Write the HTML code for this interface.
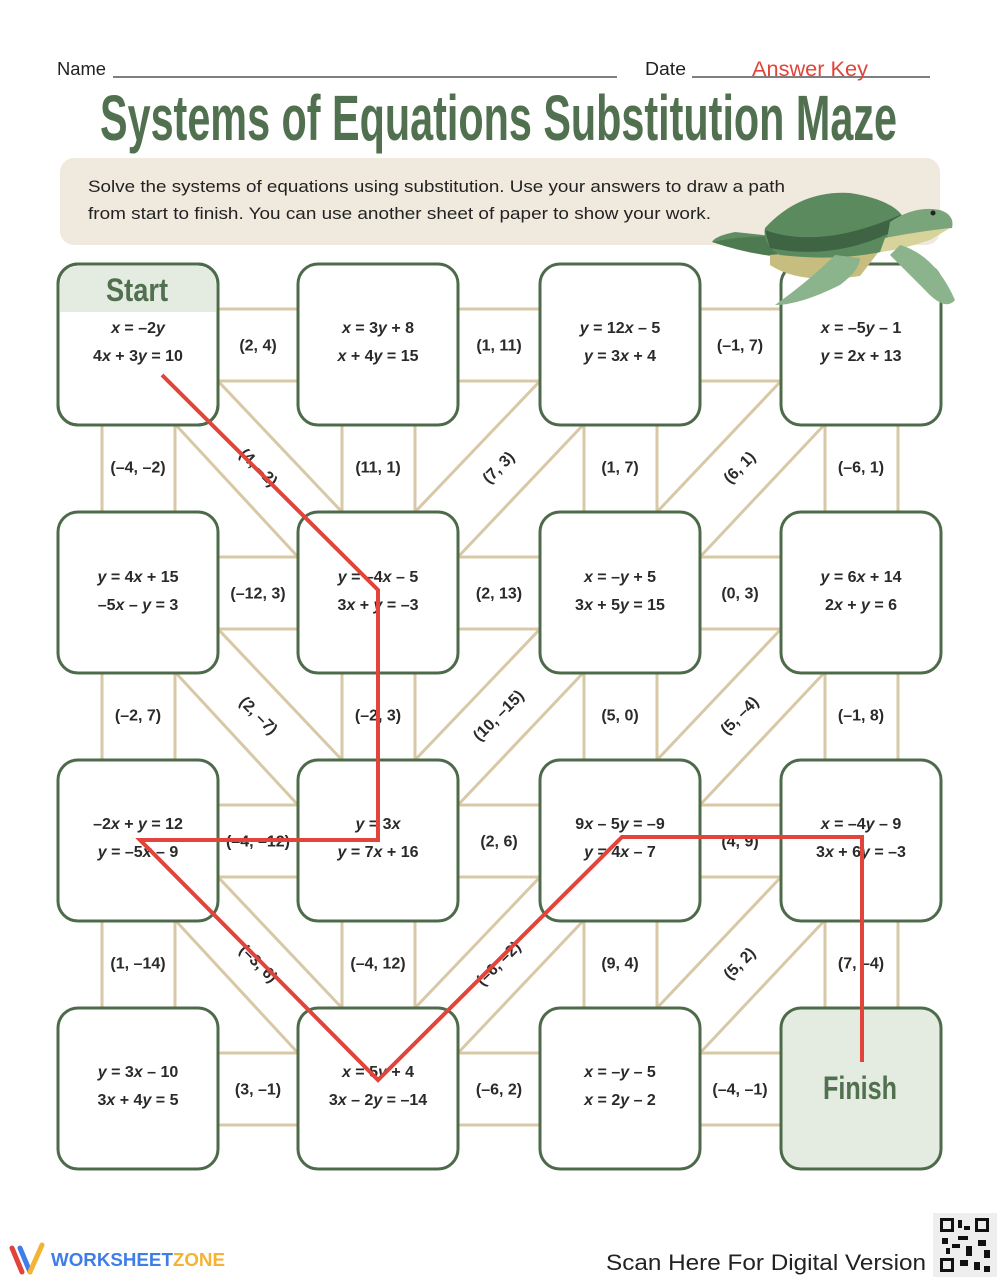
<!DOCTYPE html>
<html><head><meta charset="utf-8"><style>
html,body{margin:0;padding:0;background:#fff}
svg{display:block}
.eq{font-family:"Liberation Sans",sans-serif;font-size:16px;font-weight:bold;fill:#2a2a2a;text-anchor:middle}
.lb{font-family:"Liberation Sans",sans-serif;font-size:16px;font-weight:bold;fill:#2a2a2a;text-anchor:middle;dominant-baseline:central}
</style></head><body>
<svg width="1000" height="1279" viewBox="0 0 1000 1279" xmlns="http://www.w3.org/2000/svg">
<text x="57" y="75" font-family="Liberation Sans, sans-serif" font-size="18" fill="#222" textLength="49" lengthAdjust="spacingAndGlyphs">Name</text>
<line x1="113" y1="77" x2="617" y2="77" stroke="#333" stroke-width="1.3"/>
<text x="645" y="75" font-family="Liberation Sans, sans-serif" font-size="18" fill="#222" textLength="41" lengthAdjust="spacingAndGlyphs">Date</text>
<line x1="692" y1="77" x2="930" y2="77" stroke="#333" stroke-width="1.3"/>
<text x="752" y="76" font-family="Liberation Sans, sans-serif" font-size="21" fill="#e0443a" textLength="116" lengthAdjust="spacingAndGlyphs">Answer Key</text>
<text x="100" y="140" font-family="Liberation Sans Narrow, Liberation Sans, sans-serif" font-weight="bold" font-size="64" fill="#51704f" textLength="797" lengthAdjust="spacingAndGlyphs">Systems of Equations Substitution Maze</text>
<rect x="60" y="158" width="880" height="87" rx="14" fill="#f0e9dd"/>
<text x="88" y="192" font-family="Liberation Sans, sans-serif" font-size="17" fill="#222" textLength="697" lengthAdjust="spacingAndGlyphs">Solve the systems of equations using substitution. Use your answers to draw a path</text>
<text x="88" y="219" font-family="Liberation Sans, sans-serif" font-size="17" fill="#222" textLength="623" lengthAdjust="spacingAndGlyphs">from start to finish. You can use another sheet of paper to show your work.</text>

<g stroke="#d8c8a6" stroke-width="3" fill="none">
<line x1="100" y1="309" x2="900" y2="309"/><line x1="100" y1="381" x2="900" y2="381"/>
<line x1="100" y1="557" x2="900" y2="557"/><line x1="100" y1="629" x2="900" y2="629"/>
<line x1="100" y1="805" x2="900" y2="805"/><line x1="100" y1="877" x2="900" y2="877"/>
<line x1="100" y1="1053" x2="900" y2="1053"/><line x1="100" y1="1125" x2="900" y2="1125"/>
<line x1="102" y1="300" x2="102" y2="1100"/><line x1="175" y1="300" x2="175" y2="1100"/>
<line x1="342" y1="300" x2="342" y2="1100"/><line x1="415" y1="300" x2="415" y2="1100"/>
<line x1="584" y1="300" x2="584" y2="1100"/><line x1="657" y1="300" x2="657" y2="1100"/>
<line x1="825" y1="300" x2="825" y2="1100"/><line x1="898" y1="300" x2="898" y2="1100"/>
<line x1="218" y1="381" x2="342" y2="512"/><line x1="175" y1="424" x2="298" y2="557"/>
<line x1="218" y1="629" x2="342" y2="760"/><line x1="175" y1="672" x2="298" y2="805"/>
<line x1="218" y1="877" x2="342" y2="1008"/><line x1="175" y1="920" x2="298" y2="1053"/>
<line x1="540" y1="381" x2="415" y2="512"/><line x1="584" y1="424" x2="458" y2="557"/>
<line x1="540" y1="629" x2="415" y2="760"/><line x1="584" y1="672" x2="458" y2="805"/>
<line x1="540" y1="877" x2="415" y2="1008"/><line x1="584" y1="920" x2="458" y2="1053"/>
<line x1="781" y1="381" x2="657" y2="512"/><line x1="825" y1="424" x2="700" y2="557"/>
<line x1="781" y1="629" x2="657" y2="760"/><line x1="825" y1="672" x2="700" y2="805"/>
<line x1="781" y1="877" x2="657" y2="1008"/><line x1="825" y1="920" x2="700" y2="1053"/>
</g>

<g stroke="#4d6b4a" stroke-width="3" fill="#fff">
<rect x="58" y="264" width="160" height="161" rx="20"/>
<rect x="298" y="264" width="160" height="161" rx="20"/>
<rect x="540" y="264" width="160" height="161" rx="20"/>
<rect x="781" y="264" width="160" height="161" rx="20"/>
<rect x="58" y="512" width="160" height="161" rx="20"/>
<rect x="298" y="512" width="160" height="161" rx="20"/>
<rect x="540" y="512" width="160" height="161" rx="20"/>
<rect x="781" y="512" width="160" height="161" rx="20"/>
<rect x="58" y="760" width="160" height="161" rx="20"/>
<rect x="298" y="760" width="160" height="161" rx="20"/>
<rect x="540" y="760" width="160" height="161" rx="20"/>
<rect x="781" y="760" width="160" height="161" rx="20"/>
<rect x="58" y="1008" width="160" height="161" rx="20"/>
<rect x="298" y="1008" width="160" height="161" rx="20"/>
<rect x="540" y="1008" width="160" height="161" rx="20"/>
<rect x="781" y="1008" width="160" height="161" rx="20" fill="#e4ebe0"/>
</g>
<path d="M60,312 V286 Q60,266 80,266 H196 Q216,266 216,286 V312 Z" fill="#e4ebe0"/>
<rect x="58" y="264" width="160" height="161" rx="20" fill="none" stroke="#4d6b4a" stroke-width="3"/>
<text x="106" y="301" font-family="Liberation Sans Narrow, Liberation Sans, sans-serif" font-weight="bold" font-size="32" fill="#51704f" textLength="62" lengthAdjust="spacingAndGlyphs">Start</text>
<text x="823" y="1099" font-family="Liberation Sans Narrow, Liberation Sans, sans-serif" font-weight="bold" font-size="32" fill="#51704f" textLength="74" lengthAdjust="spacingAndGlyphs">Finish</text>

<g class="eq">
<text x="138" y="333"><tspan font-style="italic">x</tspan> = –2<tspan font-style="italic">y</tspan></text>
<text x="138" y="361">4<tspan font-style="italic">x</tspan> + 3<tspan font-style="italic">y</tspan> = 10</text>
<text x="378" y="333"><tspan font-style="italic">x</tspan> = 3<tspan font-style="italic">y</tspan> + 8</text>
<text x="378" y="361"><tspan font-style="italic">x</tspan> + 4<tspan font-style="italic">y</tspan> = 15</text>
<text x="620" y="333"><tspan font-style="italic">y</tspan> = 12<tspan font-style="italic">x</tspan> – 5</text>
<text x="620" y="361"><tspan font-style="italic">y</tspan> = 3<tspan font-style="italic">x</tspan> + 4</text>
<text x="861" y="333"><tspan font-style="italic">x</tspan> = –5<tspan font-style="italic">y</tspan> – 1</text>
<text x="861" y="361"><tspan font-style="italic">y</tspan> = 2<tspan font-style="italic">x</tspan> + 13</text>
<text x="138" y="582"><tspan font-style="italic">y</tspan> = 4<tspan font-style="italic">x</tspan> + 15</text>
<text x="138" y="610">–5<tspan font-style="italic">x</tspan> – <tspan font-style="italic">y</tspan> = 3</text>
<text x="378" y="582"><tspan font-style="italic">y</tspan> = –4<tspan font-style="italic">x</tspan> – 5</text>
<text x="378" y="610">3<tspan font-style="italic">x</tspan> + <tspan font-style="italic">y</tspan> = –3</text>
<text x="620" y="582"><tspan font-style="italic">x</tspan> = –<tspan font-style="italic">y</tspan> + 5</text>
<text x="620" y="610">3<tspan font-style="italic">x</tspan> + 5<tspan font-style="italic">y</tspan> = 15</text>
<text x="861" y="582"><tspan font-style="italic">y</tspan> = 6<tspan font-style="italic">x</tspan> + 14</text>
<text x="861" y="610">2<tspan font-style="italic">x</tspan> + <tspan font-style="italic">y</tspan> = 6</text>
<text x="138" y="829">–2<tspan font-style="italic">x</tspan> + <tspan font-style="italic">y</tspan> = 12</text>
<text x="138" y="857"><tspan font-style="italic">y</tspan> = –5<tspan font-style="italic">x</tspan> – 9</text>
<text x="378" y="829"><tspan font-style="italic">y</tspan> = 3<tspan font-style="italic">x</tspan></text>
<text x="378" y="857"><tspan font-style="italic">y</tspan> = 7<tspan font-style="italic">x</tspan> + 16</text>
<text x="620" y="829">9<tspan font-style="italic">x</tspan> – 5<tspan font-style="italic">y</tspan> = –9</text>
<text x="620" y="857"><tspan font-style="italic">y</tspan> = 4<tspan font-style="italic">x</tspan> – 7</text>
<text x="861" y="829"><tspan font-style="italic">x</tspan> = –4<tspan font-style="italic">y</tspan> – 9</text>
<text x="861" y="857">3<tspan font-style="italic">x</tspan> + 6<tspan font-style="italic">y</tspan> = –3</text>
<text x="138" y="1077"><tspan font-style="italic">y</tspan> = 3<tspan font-style="italic">x</tspan> – 10</text>
<text x="138" y="1105">3<tspan font-style="italic">x</tspan> + 4<tspan font-style="italic">y</tspan> = 5</text>
<text x="378" y="1077"><tspan font-style="italic">x</tspan> = 5<tspan font-style="italic">y</tspan> + 4</text>
<text x="378" y="1105">3<tspan font-style="italic">x</tspan> – 2<tspan font-style="italic">y</tspan> = –14</text>
<text x="620" y="1077"><tspan font-style="italic">x</tspan> = –<tspan font-style="italic">y</tspan> – 5</text>
<text x="620" y="1105"><tspan font-style="italic">x</tspan> = 2<tspan font-style="italic">y</tspan> – 2</text>
</g>

<g class="lb">
<text x="258" y="346">(2, 4)</text><text x="499" y="346">(1, 11)</text><text x="740" y="346">(–1, 7)</text>
<text x="138" y="468">(–4, –2)</text><text x="378" y="468">(11, 1)</text><text x="620" y="468">(1, 7)</text><text x="861" y="468">(–6, 1)</text>
<text transform="translate(258,468) rotate(45)">(4, –2)</text>
<text transform="translate(499,468) rotate(-45)">(7, 3)</text>
<text transform="translate(740,468) rotate(-45)">(6, 1)</text>
<text x="258" y="594">(–12, 3)</text><text x="499" y="594">(2, 13)</text><text x="740" y="594">(0, 3)</text>
<text x="138" y="716">(–2, 7)</text><text x="378" y="716">(–2, 3)</text><text x="620" y="716">(5, 0)</text><text x="861" y="716">(–1, 8)</text>
<text transform="translate(258,716) rotate(45)">(2, –7)</text>
<text transform="translate(499,716) rotate(-45)">(10, –15)</text>
<text transform="translate(740,716) rotate(-45)">(5, –4)</text>
<text x="258" y="842">(–4, –12)</text><text x="499" y="842">(2, 6)</text><text x="740" y="842">(4, 9)</text>
<text x="138" y="964">(1, –14)</text><text x="378" y="964">(–4, 12)</text><text x="620" y="964">(9, 4)</text><text x="861" y="964">(7, –4)</text>
<text transform="translate(258,964) rotate(45)">(–3, 6)</text>
<text transform="translate(499,964) rotate(-45)">(–6, –2)</text>
<text transform="translate(740,964) rotate(-45)">(5, 2)</text>
<text x="258" y="1090">(3, –1)</text><text x="499" y="1090">(–6, 2)</text><text x="740" y="1090">(–4, –1)</text>
</g>

<polyline points="162,375 378,590 378,840 140,840 378,1080 622,837 862,837 862,1062" fill="none" stroke="#e0443a" stroke-width="4"/>

<g>
<path d="M735,232 Q715,236 712,242 Q740,245 790,238 Z" fill="#5f8e63"/>
<path d="M712,242 Q760,232 800,240 L790,258 Q750,255 712,242Z" fill="#4e7a52"/>
<path d="M770,265 Q800,285 860,276 L880,250 Q820,250 770,255Z" fill="#c6bd7f"/>
<path d="M765,228 Q800,190 850,193 Q895,200 905,220 L890,250 Q840,262 780,255 Q762,245 765,228Z" fill="#5a8a5e"/>
<path d="M765,230 Q820,250 900,215 L905,225 Q840,262 770,248Z" fill="#3e6443"/>
<path d="M890,222 Q915,205 940,210 Q955,215 952,228 Q935,230 915,240 L885,250Z" fill="#7aa57a"/>
<path d="M885,238 Q915,232 950,228 L930,240 Q900,250 880,252Z" fill="#d7d39a"/>
<circle cx="933" cy="213" r="2.5" fill="#222"/>
<path d="M835,255 Q810,280 775,305 Q800,305 840,285 Q860,270 860,258Z" fill="#8cb48c"/>
<path d="M900,245 Q935,255 955,300 Q945,312 925,290 Q905,270 890,255Z" fill="#8cb48c"/>
</g>

<path d="M12,1248 L22,1272" stroke="#e0443a" stroke-width="5" stroke-linecap="round"/>
<path d="M20,1248 L30,1272" stroke="#3f7de8" stroke-width="5" stroke-linecap="round"/>
<path d="M30,1272 L42,1245" stroke="#f5b335" stroke-width="5" stroke-linecap="round"/>
<text x="51" y="1266" font-family="Liberation Sans, sans-serif" font-weight="bold" font-size="18" textLength="174" lengthAdjust="spacingAndGlyphs"><tspan fill="#3f7de8">WORKSHEET</tspan><tspan fill="#f5b335">ZONE</tspan></text>
<text x="606" y="1270" font-family="Liberation Sans, sans-serif" font-size="22" fill="#222" textLength="320" lengthAdjust="spacingAndGlyphs">Scan Here For Digital Version</text>
<rect x="933" y="1213" width="64" height="64" fill="#eee"/>
<g fill="#111">
<rect x="940" y="1218" width="14" height="14"/><rect x="975" y="1218" width="14" height="14"/><rect x="940" y="1258" width="14" height="14"/>
<rect x="943" y="1221" width="8" height="8" fill="#eee"/><rect x="978" y="1221" width="8" height="8" fill="#eee"/><rect x="943" y="1261" width="8" height="8" fill="#eee"/>
<rect x="958" y="1220" width="4" height="8"/><rect x="964" y="1226" width="6" height="4"/><rect x="958" y="1236" width="10" height="4"/>
<rect x="942" y="1238" width="6" height="6"/><rect x="952" y="1244" width="8" height="4"/><rect x="966" y="1246" width="6" height="10"/>
<rect x="978" y="1240" width="8" height="6"/><rect x="984" y="1250" width="6" height="8"/><rect x="960" y="1260" width="8" height="6"/>
<rect x="974" y="1262" width="6" height="8"/><rect x="984" y="1266" width="6" height="6"/><rect x="946" y="1248" width="4" height="6"/>
</g>
</svg>
</body></html>
